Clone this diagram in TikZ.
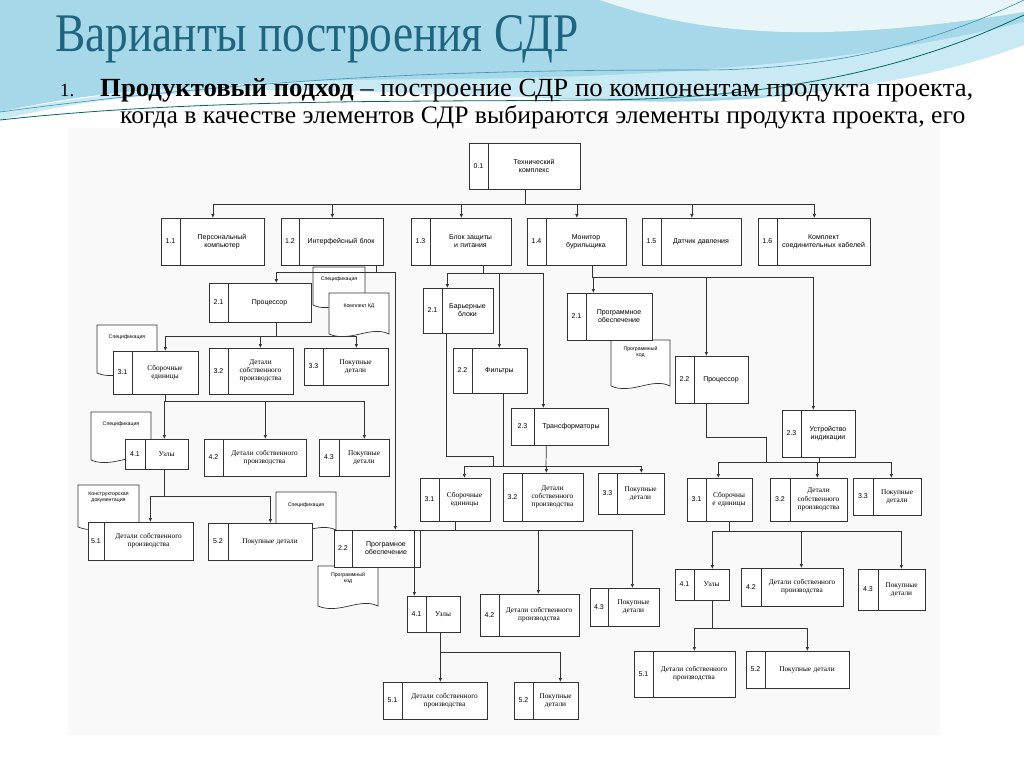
\documentclass[tikz,border=0pt]{standalone}
\usepackage{fontspec}
\setmainfont{Liberation Serif}
\setsansfont{Liberation Sans}
\usetikzlibrary{arrows.meta,calc}
\definecolor{wave}{HTML}{A6D8EA}
\definecolor{wave2}{HTML}{C9EAF4}
\definecolor{ttl}{HTML}{1F6580}
\newcommand\fs{\sffamily\fontsize{7}{8}\selectfont}
\newcommand\fr{\rmfamily\fontsize{7.3}{8.3}\selectfont}
\newcommand\fd{\sffamily\fontsize{5.2}{6.2}\selectfont}
\newcommand\wbs[9]{%
 \pgfmathsetmacro\bw{#4-#2}\pgfmathsetmacro\bh{#5-#3}\pgfmathsetmacro\tw{#4-#6-10}%
 \node[wb, minimum width=\bw pt, minimum height=\bh pt, anchor=north west] (#1) at (#2,#3) {};
 \draw[ln] (#6,#3) -- (#6,#5);
 \node[font=\fs, inner sep=0] (#1n) at ({(#2+#6)/2},{(#3+#5)/2}) {#7};
 \node[align=center, text width=\tw pt, font=#9, inner sep=0] (#1t) at ({(#6+#4)/2},{(#3+#5)/2}) {#8};}
\newcommand\docs[6]{%
 \draw[ln, fill=white] (#2,#3) -- (#4,#3) -- (#4,#5) .. controls ({#4-0.3*(#4-#2)},{#5-9}) and ({#2+0.35*(#4-#2)},{#5+9}) .. (#2,#5) -- cycle;
 \node[font=\fd, align=center, inner sep=0] (#1) at ({(#2+#4)/2},{#3+12}) {#6};}
\begin{document}
\begin{tikzpicture}[x=1pt,y=-1pt,
 ln/.style={draw=black!80, line width=0.7pt},
 wb/.style={ln, fill=white, inner sep=0},
 arr/.style={ln, -{Latex[length=4pt,width=3.5pt]}}]
\useasboundingbox (0,0) rectangle (1024,767);
\fill[white] (0,0) rectangle (1024,767);
% header waves
\fill[wave] (0,0) -- (1024,0) -- (1024,25) .. controls (850,120) and (650,105) .. (450,92) .. controls (250,80) and (120,85) .. (0,112) -- cycle;
\fill[white, opacity=0.75] (600,0) .. controls (700,35) and (820,45) .. (1024,12) -- (1024,0) -- cycle;
\fill[wave2] (0,112) .. controls (200,72) and (420,82) .. (560,77) .. controls (700,72) and (860,62) .. (1024,22) -- (1024,45) .. controls (850,110) and (650,100) .. (450,95) .. controls (250,85) and (120,90) .. (0,120) -- cycle;
\draw[teal!80!black, line width=0.8pt] (0,120) .. controls (200,98) and (420,102) .. (600,100) .. controls (800,98) and (930,60) .. (1024,15);
\draw[cyan!70!black, line width=0.6pt] (0,112) .. controls (300,72) and (520,70) .. (700,70) .. controls (850,70) and (950,35) .. (1024,0);
\fill[gray!5] (68,128) rectangle (940,735);
% texts
\node[anchor=base west, inner sep=0, text=ttl, font=\rmfamily] (title) at (55,52) {\resizebox{523pt}{36pt}{Варианты построения СДР}};
\node[anchor=base west, inner sep=0] (l1n) at (60,97) {\resizebox{14pt}{!}{\fontsize{20}{22}\selectfont 1.}};
\node[anchor=base west, inner sep=0] (l1) at (100,97) {\resizebox{873pt}{18pt}{\textbf{Продуктовый подход} – построение СДР по компонентам продукта проекта,}};
\node[anchor=base west, inner sep=0] (l2) at (120,124) {\resizebox{845pt}{18pt}{когда в качестве элементов СДР выбираются элементы продукта проекта, его}};
% documents
\docs{dA}{313}{267}{365}{305}{Спецификация}
\docs{dB}{329}{293}{389}{334}{\\Комплект КД}
\docs{dC}{97}{325}{157}{373}{Спецификация}
\docs{dD}{91}{412}{151}{460}{Спецификация}
\docs{dE}{78}{485}{139}{527}{Конструкторская\\документация}
\docs{dF}{276}{492}{336}{530}{\\Спецификация}
\docs{dG}{318}{566}{378}{606}{Программный\\код}
\docs{dH}{611}{340}{670}{386}{Программный\\код}
% boxes
\wbs{b01}{469}{143}{580}{189}{488}{0.1}{Технический\\комплекс}{\fs}
\wbs{b11}{161}{218}{264}{265}{180}{1.1}{Персональный компьютер}{\fs}
\wbs{b12}{281}{218}{383}{265}{299}{1.2}{Интерфейсный блок}{\fs}
\wbs{b13}{411}{218}{511}{265}{430}{1.3}{Блок защиты и питания}{\fs}
\wbs{b14}{527}{218}{626}{265}{546}{1.4}{Монитор бурильщика}{\fs}
\wbs{b15}{642}{218}{741}{265}{661}{1.5}{Датчик давления}{\fs}
\wbs{b16}{758}{218}{870}{265}{777}{1.6}{Комплект соединительных кабелей}{\fs}
% left tree
\wbs{b21a}{209}{283}{311}{322}{228}{2.1}{Процессор}{\fs}
\wbs{b22a}{334}{530}{420}{567}{352}{2.2}{Програмное обеспечение}{\fs}
\wbs{b31a}{113}{351}{198}{394}{132}{3.1}{Сборочные единицы}{\fr}
\wbs{b32a}{209}{348}{293}{394}{228}{3.2}{Детали собственного производства}{\fr}
\wbs{b33a}{304}{348}{388}{385}{323}{3.3}{Покупные детали}{\fr}
\wbs{b41a}{125}{439}{188}{469}{145}{4.1}{Узлы}{\fr}
\wbs{b42a}{204}{439}{306}{476}{223}{4.2}{Детали собственного производства}{\fr}
\wbs{b43a}{319}{439}{389}{476}{339}{4.3}{Покупные детали}{\fr}
\wbs{b51a}{88}{522}{193}{560}{104}{5.1}{Детали собственного производства}{\fr}
\wbs{b52a}{208}{523}{312}{560}{228}{5.2}{Покупные детали}{\fr}
% middle tree
\wbs{b21b}{423}{288}{493}{333}{442}{2.1}{Барьерные блоки}{\fs}
\wbs{b22b}{453}{348}{527}{393}{472}{2.2}{Фильтры}{\fs}
\wbs{b23b}{511}{408}{608}{445}{534}{2.3}{Трансформаторы}{\fs}
\wbs{b31b}{420}{478}{490}{521}{439}{3.1}{Сборочные единицы}{\fr}
\wbs{b32b}{503}{473}{583}{521}{522}{3.2}{Детали собственного производства}{\fr}
\wbs{b33b}{598}{473}{664}{514}{617}{3.3}{Покупные детали}{\fr}
\wbs{b41b}{407}{596}{460}{632}{426}{4.1}{Узлы}{\fr}
\wbs{b42b}{480}{594}{579}{636}{499}{4.2}{Детали собственного производства}{\fr}
\wbs{b43b}{590}{588}{659}{626}{608}{4.3}{Покупные детали}{\fr}
\wbs{b51b}{383}{682}{487}{719}{402}{5.1}{Детали собственного производства}{\fr}
\wbs{b52b}{514}{682}{578}{719}{533}{5.2}{Покупные детали}{\fr}
% right tree
\wbs{b21c}{567}{293}{652}{340}{586}{2.1}{Программное обеспечение}{\fs}
\wbs{b22c}{675}{356}{748}{403}{694}{2.2}{Процессор}{\fs}
\wbs{b23c}{782}{410}{855}{457}{801}{2.3}{Устройство индикации}{\fs}
\wbs{b31c}{687}{478}{752}{521}{706}{3.1}{Сборочны е единицы}{\fr}
\wbs{b32c}{770}{478}{847}{521}{790}{3.2}{Детали собственного производства}{\fr}
\wbs{b33c}{853}{478}{921}{515}{873}{3.3}{Покупные детали}{\fr}
\wbs{b41c}{675}{569}{729}{600}{694}{4.1}{Узлы}{\fr}
\wbs{b42c}{741}{568}{843}{606}{761}{4.2}{Детали собственного производства}{\fr}
\wbs{b43c}{858}{569}{925}{610}{878}{4.3}{Покупные детали}{\fr}
\wbs{b51c}{634}{651}{735}{697}{653}{5.1}{Детали собственного производства}{\fr}
\wbs{b52c}{746}{651}{849}{688}{765}{5.2}{Покупные детали}{\fr}
% connectors level 0-1
\draw[ln] (b01.south) -- ++(0,15) coordinate (j0);
\foreach \t in {b11,b12,b13,b14,b15,b16} \draw[arr] (j0) -| (\t.north);
% left tree
\draw[ln] ($(b12.south)+(44,0)$) -- ++(0,7) coordinate (j12);
\draw[arr] (j12) -| ($(b21a.north)+(16,0)$);
\draw[arr] (j12) -| ($(b22a.north)+(18,0)$);
\draw[ln] ($(b21a.south)+(16,0)$) -- ++(0,14) coordinate (j21a);
\draw[arr] (j21a) -| ($(b31a.north)+(9.5,0)$);
\draw[arr] (j21a) -| ($(b32a.north)+(9,0)$);
\draw[arr] (j21a) -| ($(b33a.north)+(10,0)$);
\draw[ln] ($(b31a.south)+(9.5,0)$) -- ++(0,7) coordinate (j31a);
\draw[arr] (j31a) -| ($(b41a.north)+(7.5,0)$);
\draw[arr] (j31a) -| ($(b42a.north)+(10,0)$);
\draw[arr] (j31a) -| ($(b43a.north)+(10,0)$);
\draw[ln] ($(b41a.south)+(7.5,0)$) -- ++(0,27) coordinate (j41a);
\draw[arr] (j41a) -| ($(b51a.north)+(9.5,0)$);
\draw[arr] (j41a) -| ($(b52a.north)+(10,0)$);
% middle tree
\draw[ln] ($(b13.south)+(22,0)$) -- ++(0,8) coordinate (j13);
\draw[arr] (j13) -| ($(b21b.north)+(-11,0)$);
\draw[arr] (j13) -| ($(b22b.north)+(9,0)$);
\draw[arr] (j13) -| ($(b23b.north)+(-16.5,0)$);
\coordinate (j3b) at (546,466);
\draw[ln] ($(b21b.south)+(-12,0)$) -- ++(0,123) -| ($(j3b)+(-53,0)$);
\draw[ln] ($(b22b.south)+(13,0)$) |- (j3b);
\draw[ln] ($(b23b.south)+(-13.5,0)$) -- (j3b);
\draw[arr] (j3b) -| ($(b31b.north)+(9,0)$);
\draw[arr] (j3b) -| ($(b32b.north)+(3,0)$);
\draw[arr] (j3b) -| ($(b33b.north)+(10,0)$);
\draw[ln] (b31b.south) -- ++(0,9) coordinate (j31b);
\draw[arr] (j31b) -| ($(b41b.north)+(-19.5,0)$);
\draw[arr] (j31b) -| ($(b42b.north)+(8.5,0)$);
\draw[arr] (j31b) -| ($(b43b.north)+(7.5,0)$);
\draw[ln] ($(b41b.south)+(6.5,0)$) -- ++(0,20) coordinate (j41b);
\draw[arr] (j41b) -| ($(b51b.north)+(5,0)$);
\draw[arr] (j41b) -| ($(b52b.north)+(14,0)$);
% right tree
\draw[ln] ($(b14.south)+(15.5,0)$) -- ++(0,12) coordinate (j14);
\draw[arr] (j14) -| ($(b21c.north)+(-16.5,0)$);
\draw[arr] (j14) -| ($(b22c.north)+(-5.5,0)$);
\draw[arr] (j14) -| ($(b23c.north)+(-5.5,0)$);
\coordinate (j3c) at (766,462);
\draw[ln] ($(b22c.south)+(-5.5,0)$) -- ++(0,34) -| (j3c);
\draw[ln] (b23c.south) |- (j3c);
\draw[arr] (j3c) -| ($(b31c.north)+(-1.5,0)$);
\draw[arr] (j3c) -| ($(b32c.north)+(8.5,0)$);
\draw[arr] (j3c) -| ($(b33c.north)+(4,0)$);
\draw[ln] ($(b31c.south)+(9.5,0)$) -- ++(0,10) coordinate (j31c);
\draw[arr] (j31c) -| ($(b41c.north)+(10,0)$);
\draw[arr] (j31c) -| ($(b42c.north)+(9,0)$);
\draw[arr] (j31c) -| ($(b43c.north)+(9.5,0)$);
\draw[ln] ($(b41c.south)+(10,0)$) -- ++(0,28) coordinate (j41c);
\draw[arr] (j41c) -| ($(b51c.north)+(9.5,0)$);
\draw[arr] (j41c) -| ($(b52c.north)+(9.5,0)$);
\end{tikzpicture}
\end{document}
